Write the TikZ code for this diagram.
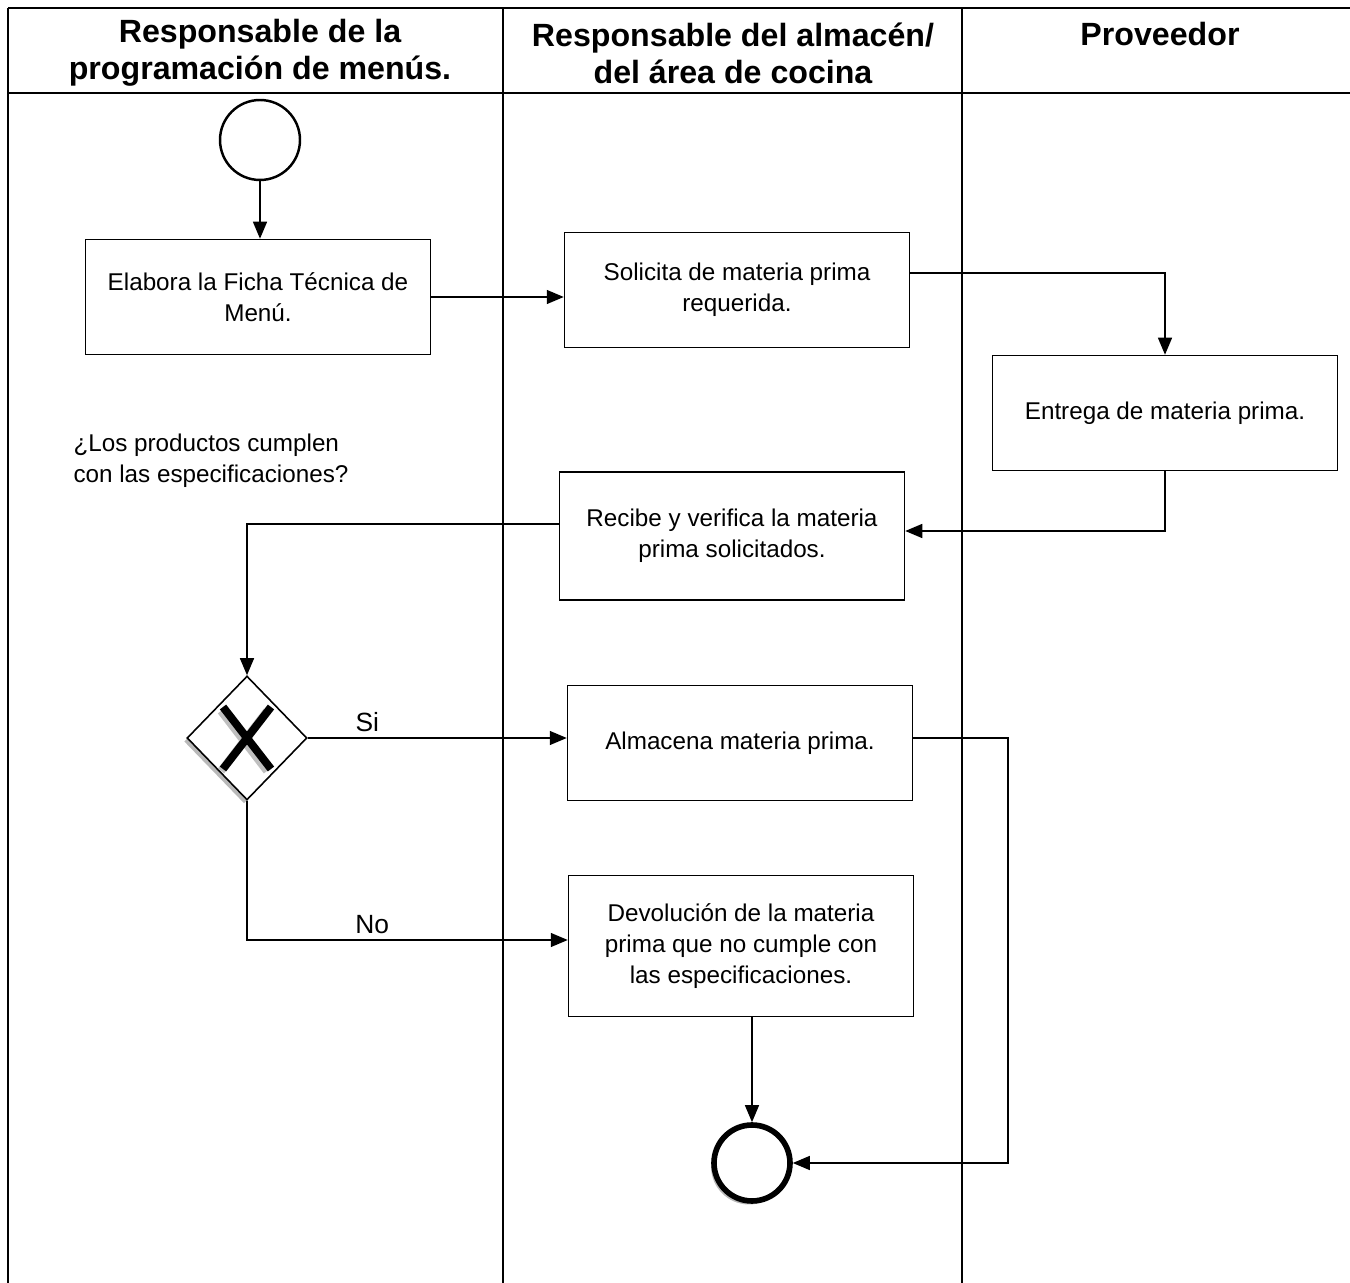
\documentclass[tikz,border=0pt]{standalone}
\usepackage{fontspec}
\setmainfont{Liberation Sans}
\usepackage{xcolor}
\usepackage{tikz}
\usetikzlibrary{shapes.geometric,arrows.meta,shadows}

\begin{document}
\begin{tikzpicture}[x=0.02cm, y=-0.02cm,
    lane/.style={line width=1.1pt},
    head/.style={align=center, font=\bfseries\fontsize{18.3}{21}\selectfont},
    block/.style={rectangle, draw, line width=0.9pt, minimum width=6.9cm, minimum height=2.3cm, align=center, font=\fontsize{13.8}{17.5}\selectfont},
    arrow/.style={-{Triangle[length=3.4mm,width=2.8mm]}, line width=0.8pt},
    shade/.style={drop shadow={shadow xshift=-0.06cm, shadow yshift=-0.07cm, fill=gray!55, opacity=1}}
]
    \useasboundingbox (0,0) rectangle (1350,1283);

    % Swimlanes
    \draw[lane] (8,8) -- (1350,8);
    \draw[lane] (8,93) -- (1350,93);
    \draw[lane] (8,8) -- (8,1283);
    \draw[lane] (503,8) -- (503,1283);
    \draw[lane] (962,8) -- (962,1283);
    \node[head] (h1) at (260,53) {Responsable de la\\programación de menús.};
    \node[head] (h2) at (733,53) {Responsable del almacén/\\del área de cocina};
    \node[head] (h3) at (1160,34) {Proveedor};

    % Left lane
    \node[circle, draw, line width=1.4pt, minimum size=1.6cm] (start) at (260,140) {};
    \node[block] (ficha) at (258,297) {Elabora la Ficha Técnica de\\Menú.};
    \node[align=left, font=\fontsize{13.8}{17.5}\selectfont] (pregunta) at (211,461) {¿Los productos cumplen\\con las especificaciones?};
    \node[diamond, draw, fill=white, line width=0.9pt, minimum width=2.4cm, minimum height=2.48cm, inner sep=0pt, shade] (gw) at (247,738) {};
    \draw[line width=4.5pt, gray!50] ([shift={(-26,-27)}]gw.center) -- ([shift={(20,33)}]gw.center);
    \draw[line width=4.5pt, gray!50] ([shift={(20,-27)}]gw.center) -- ([shift={(-26,33)}]gw.center);
    \draw[line width=4.5pt] ([shift={(-24,-31)}]gw.center) -- ([shift={(24,31)}]gw.center);
    \draw[line width=4.5pt] ([shift={(24,-31)}]gw.center) -- ([shift={(-24,31)}]gw.center);

    % Middle lane
    \node[block] (solicita) at (737,290) {Solicita de materia prima\\requerida.};
    \node[block, minimum height=2.56cm] (recibe) at (732,536) {Recibe y verifica la materia\\prima solicitados.};
    \node[block] (almacena) at (740,743) {Almacena materia prima.};
    \node[block, minimum height=2.82cm] (devol) at (741,946) {Devolución de la materia\\prima que no cumple con\\las especificaciones.};
    \node[circle, draw, fill=white, line width=3.2pt, minimum size=1.52cm, shade] (fin) at (752,1163) {};

    % Right lane
    \node[block] (entrega) at (1165,413) {Entrega de materia prima.};

    % Arrows
    \draw[arrow] (start) -- (start |- ficha.north);
    \draw[arrow] (ficha.east) -- (solicita.west |- ficha.east);
    \draw[arrow] (solicita.east |- 0,273) -| (entrega.north);
    \draw[arrow] (entrega.south) |- (recibe.east |- 0,531);
    \draw[arrow] (recibe.west |- 0,524) -| (gw.north);
    \draw[arrow] (gw.east) -- (almacena.west |- gw.east) node[pos=0.23, above, font=\fontsize{15}{17}\selectfont] (si) {Si};
    \draw[arrow] (gw.south) |- (devol.west |- 0,940) node[pos=0.695, above, font=\fontsize{15}{17}\selectfont] (no) {No};
    \draw[arrow] (devol.south -| fin) -- (fin.north);
    \draw[arrow] (almacena.east |- 0,738) -- (1008,738) |- (fin.east);
\end{tikzpicture}
\end{document}
